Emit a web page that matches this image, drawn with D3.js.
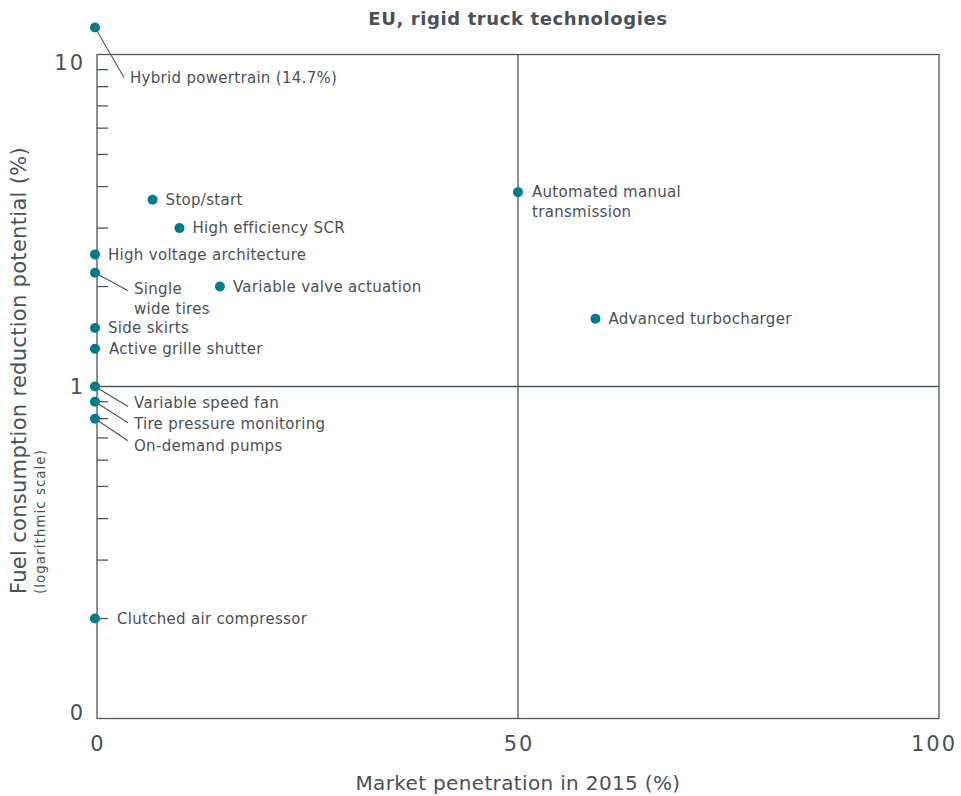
<!DOCTYPE html>
<html>
<head>
<meta charset="utf-8">
<script src="https://cdn.jsdelivr.net/npm/d3@7"></script>
<style>
  body { margin: 0; background: #fff; }
  svg { font-family: "DejaVu Sans", "Open Sans", sans-serif; }
  .lbl { font-size: 15px; letter-spacing: 0.3px; fill: #4a5058; }
  .tick-lbl { font-size: 21px; letter-spacing: 2px; fill: #4a5058; }
</style>
</head>
<body>
<div id="chart"></div>
<script>
// data
var techNames = ['Hybrid powertrain (14.7%)', 'Stop/start', 'High efficiency SCR', 'High voltage architecture',
  'Single wide tires', 'Variable valve actuation', 'Side skirts', 'Active grille shutter',
  'Variable speed fan', 'Tire pressure monitoring', 'On-demand pumps', 'Clutched air compressor',
  'Automated manual transmission', 'Advanced turbocharger'];
var penetration = [0, 6.6, 9.8, 0, 0, 14.6, 0, 0, 0, 0, 0, 0, 50, 59.2];
var reduction = [14.7, 3.65, 3.0, 2.5, 2.2, 2.0, 1.5, 1.3, 1.0, 0.9, 0.8, 0.2, 3.85, 1.6];
var xTicks = [0, 50, 100];
var yTicks = [0.1, 1, 10];
var yTickLabels = ['0', '1', '10'];
var yMinor = [0.2, 0.3, 0.4, 0.5, 0.6, 0.7, 0.8, 0.9, 2, 3, 4, 5, 6, 7, 8, 9];

// label layout: lines of text, offset from the dot, optional leader line end
var labelLayout = {
  'Hybrid powertrain (14.7%)': {lines: ['Hybrid powertrain (14.7%)'], lx: 35, ly: 50, leader: [29, 50]},
  'Single wide tires': {lines: ['Single', 'wide tires'], lx: 39, ly: 16, leader: [33, 18]},
  'Variable speed fan': {lines: ['Variable speed fan'], lx: 39, ly: 16, leader: [33, 20]},
  'Tire pressure monitoring': {lines: ['Tire pressure monitoring'], lx: 39, ly: 22, leader: [33, 21]},
  'On-demand pumps': {lines: ['On-demand pumps'], lx: 39, ly: 27, leader: [33, 22]},
  'Clutched air compressor': {lines: ['Clutched air compressor'], lx: 22, ly: 0},
  'Automated manual transmission': {lines: ['Automated manual', 'transmission'], lx: 14, ly: 0},
  'Active grille shutter': {lines: ['Active grille shutter'], lx: 14, ly: 0}
};

var data = techNames.map(function(n, i) {
  return {name: n, x: penetration[i], y: reduction[i]};
});

var width = 961, height = 796;
var margin = {top: 54.5, right: 22, bottom: 77.5, left: 97};
var lineColor = '#4d5560';
var textColor = '#4a5058';
var dotColor = '#007b8a';

var svg = d3.select('#chart').append('svg')
  .attr('width', width)
  .attr('height', height);

var x = d3.scaleLinear().domain([0, 100]).range([margin.left, width - margin.right]);
var y = d3.scaleLog().domain([0.1, 10]).range([height - margin.bottom, margin.top]);

// title
svg.append('text')
  .attr('x', (x(0) + x(100)) / 2)
  .attr('y', 25)
  .attr('text-anchor', 'middle')
  .attr('font-size', 18)
  .attr('letter-spacing', 0.6)
  .attr('font-weight', 'bold')
  .attr('fill', textColor)
  .text('EU, rigid truck technologies');

// frame
svg.append('rect')
  .attr('x', x(0)).attr('y', y(10))
  .attr('width', x(100) - x(0)).attr('height', y(0.1) - y(10))
  .attr('fill', 'none').attr('stroke', lineColor).attr('stroke-width', 1.3);

// quadrant lines
svg.append('line')
  .attr('x1', x(50)).attr('x2', x(50)).attr('y1', y(10)).attr('y2', y(0.1))
  .attr('stroke', lineColor).attr('stroke-width', 1.3);
svg.append('line')
  .attr('x1', x(0)).attr('x2', x(100)).attr('y1', y(1)).attr('y2', y(1))
  .attr('stroke', lineColor).attr('stroke-width', 1.3);

// minor ticks, inside the frame
svg.append('g').selectAll('line')
  .data(yMinor)
  .enter().append('line')
  .attr('x1', x(0)).attr('x2', x(0) + 11)
  .attr('y1', function(d) { return y(d); })
  .attr('y2', function(d) { return y(d); })
  .attr('stroke', lineColor).attr('stroke-width', 1.3);

// y tick labels (nudged like the original)
var yNudge = [-6, 0, 8];
svg.append('g').selectAll('text')
  .data(yTicks)
  .enter().append('text')
  .attr('class', 'tick-lbl')
  .attr('x', x(0) - 12)
  .attr('y', function(d, i) { return y(d) + yNudge[i]; })
  .attr('dy', '0.35em')
  .attr('text-anchor', 'end')
  .text(function(d, i) { return yTickLabels[i]; });

// x tick labels
svg.append('g').selectAll('text')
  .data(xTicks)
  .enter().append('text')
  .attr('class', 'tick-lbl')
  .attr('x', function(d) { return x(d) + 1 - (d === 100 ? 6 : 0); })
  .attr('y', y(0.1) + 25)
  .attr('dy', '0.35em')
  .attr('text-anchor', 'middle')
  .text(function(d) { return d; });

// axis titles
svg.append('text')
  .attr('x', (x(0) + x(100)) / 2)
  .attr('y', 783)
  .attr('dy', '0.35em')
  .attr('text-anchor', 'middle')
  .attr('font-size', 20)
  .attr('letter-spacing', 0.35)
  .attr('fill', textColor)
  .text('Market penetration in 2015 (%)');

svg.append('text')
  .attr('transform', 'translate(26,594) rotate(-90)')
  .attr('font-size', 21)
  .attr('letter-spacing', 0.3)
  .attr('fill', textColor)
  .text('Fuel consumption reduction potential (%)');

svg.append('text')
  .attr('transform', 'translate(45,594) rotate(-90)')
  .attr('font-size', 13.5)
  .attr('letter-spacing', 1)
  .attr('fill', textColor)
  .text('(logarithmic scale)');

// off-scale values sit above the frame
function py(d) {
  return d.y > 10 ? y(10) - 27 : y(d.y);
}
function px(d) {
  return x(d.x) - (d.x === 0 ? 2 : 0);
}

var pts = svg.append('g').selectAll('g')
  .data(data)
  .enter().append('g')
  .attr('transform', function(d) { return 'translate(' + px(d) + ',' + py(d) + ')'; });

pts.filter(function(d) { return labelLayout[d.name] && labelLayout[d.name].leader; })
  .append('line')
  .attr('x1', 0).attr('y1', 0)
  .attr('x2', function(d) { return labelLayout[d.name].leader[0]; })
  .attr('y2', function(d) { return labelLayout[d.name].leader[1]; })
  .attr('stroke', lineColor).attr('stroke-width', 1.1);

pts.append('circle')
  .attr('r', 5)
  .attr('fill', dotColor);

pts.append('text')
  .attr('class', 'lbl')
  .attr('x', function(d) { return labelLayout[d.name] ? labelLayout[d.name].lx : 13; })
  .attr('y', function(d) { return labelLayout[d.name] ? labelLayout[d.name].ly : 0; })
  .each(function(d) {
    var lines = labelLayout[d.name] ? labelLayout[d.name].lines : [d.name];
    var t = d3.select(this);
    var lx = t.attr('x');
    lines.forEach(function(l, i) {
      t.append('tspan')
        .attr('x', lx)
        .attr('dy', i === 0 ? '0.35em' : '1.3em')
        .text(l);
    });
  });
</script>
</body>
</html>
